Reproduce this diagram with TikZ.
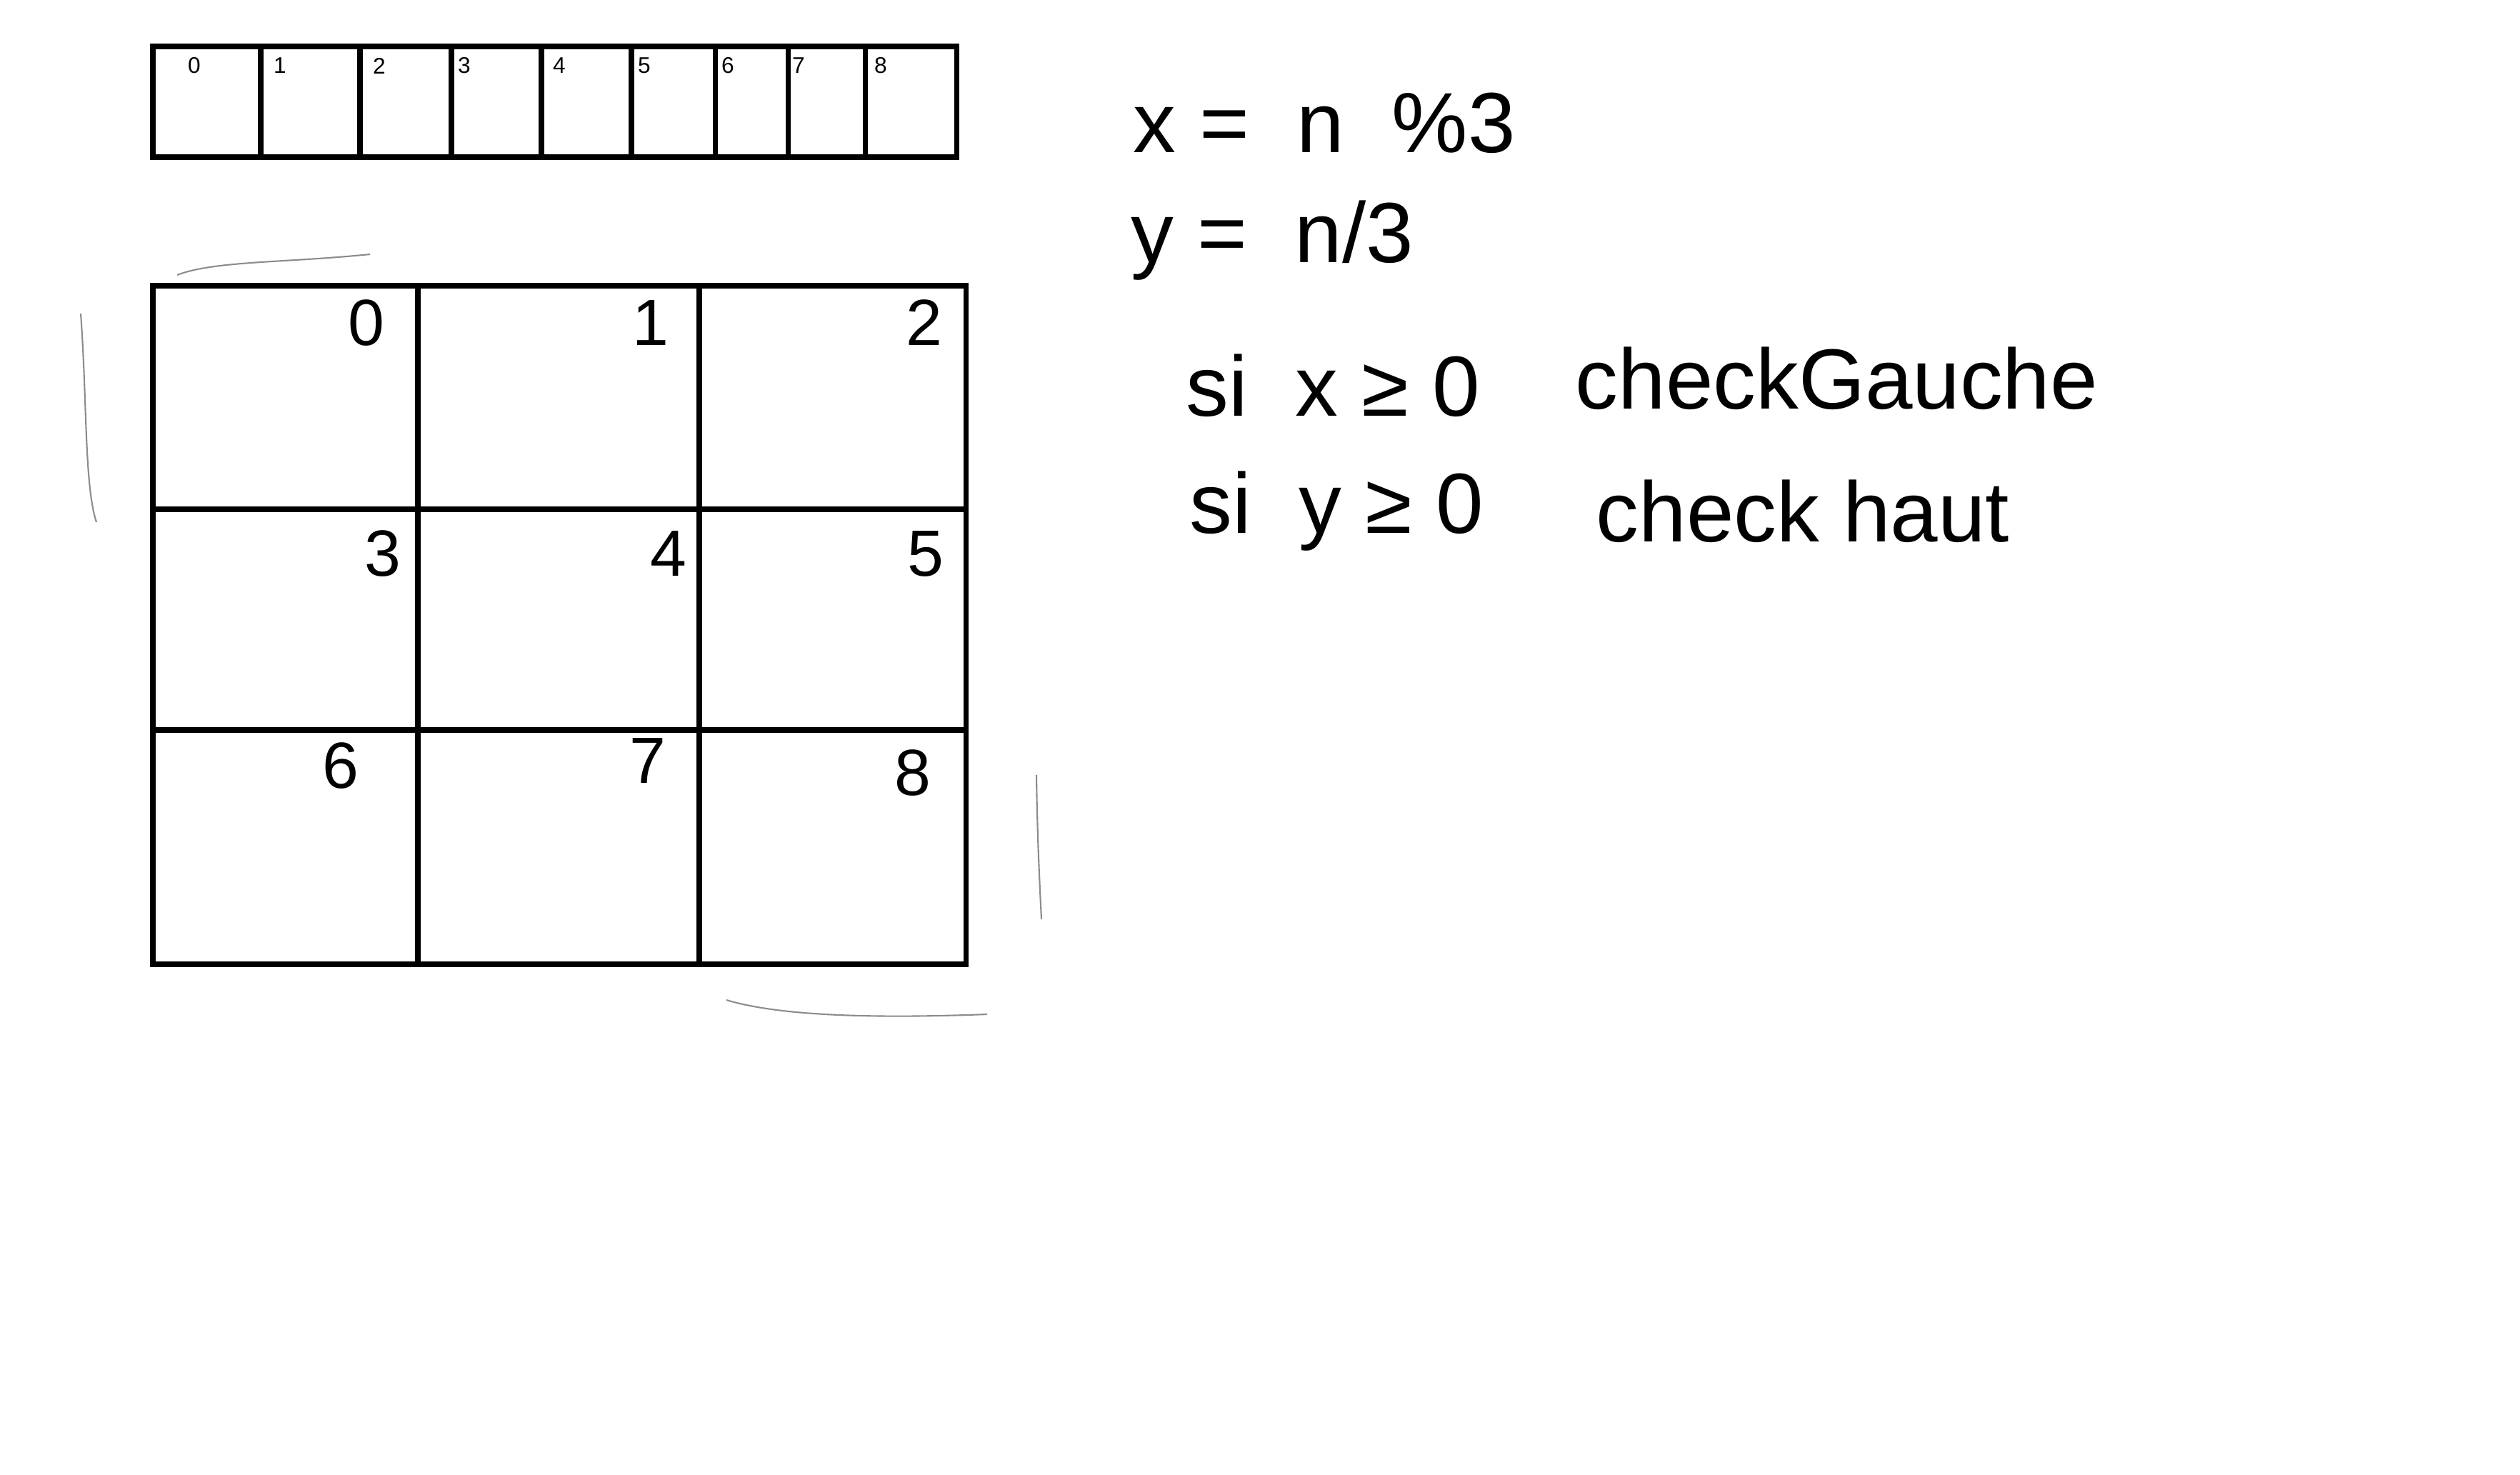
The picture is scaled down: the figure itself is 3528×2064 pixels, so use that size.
\documentclass[tikz,border=0pt]{standalone}
\usepackage{fontspec}
\setmainfont{Liberation Sans}
\begin{document}
\begin{tikzpicture}[x=0.01cm,y=-0.01cm,
  ink/.style={draw=black,line width=2pt},
  faint/.style={draw=black!45,line width=0.6pt},
  smallnum/.style={font=\fontsize{9}{10}\selectfont,inner sep=0pt},
  cellnum/.style={font=\fontsize{26}{28}\selectfont,inner sep=0pt},
  note/.style={font=\fontsize{34}{38}\selectfont,inner sep=0pt,anchor=west}]
\useasboundingbox (0,0) rectangle (3528,2064);
% top strip
\draw[ink] (214,65) rectangle (1339,220);
\foreach \xx in {365,504,632,758,884,1001,1103,1211}
  \draw[ink] (\xx,65) -- (\xx,220);
\foreach \xx/\n in {272/0,392/1,531/2,650/3,783/4,902/5,1019/6,1118/7,1233/8}
  \node[smallnum] (s\n) at (\xx,92) {\n};
% grid
\draw[ink] (214,400) rectangle (1352,1350);
\draw[ink] (585,400) -- (585,1350);
\draw[ink] (979,400) -- (979,1350);
\draw[ink] (214,713) -- (1352,713);
\draw[ink] (214,1022) -- (1352,1022);
\node[cellnum] (g0) at (513,452) {0};
\node[cellnum] (g1) at (911,452) {1};
\node[cellnum] (g2) at (1294,452) {2};
\node[cellnum] (g3) at (536,775) {3};
\node[cellnum] (g4) at (936,775) {4};
\node[cellnum] (g5) at (1296,775) {5};
\node[cellnum] (g6) at (477,1072) {6};
\node[cellnum] (g7) at (907,1065) {7};
\node[cellnum] (g8) at (1278,1082) {8};
% faint strokes
\draw[faint] (248,385) .. controls (300,365) and (400,368) .. (518,356);
\draw[faint] (113,439) .. controls (122,560) and (118,680) .. (135,731);
\draw[faint] (1451,1085) .. controls (1452,1160) and (1455,1230) .. (1458,1287);
\draw[faint] (1017,1400) .. controls (1100,1425) and (1250,1425) .. (1382,1420);
% notes
\node[note] (n1) at (1586,172) {x =\ \ n \ \%3};
\node[note] (n2) at (1583,337) {y =\ \ n/3};
\node[note] (n3) at (1660,540) {si\ \ x ≥ 0};
\node[note] (n4) at (2205,530) {checkGauche};
\node[note] (n5) at (1665,716) {si\ \ y ≥ 0};
\node[note] (n6) at (2234,716) {check haut};
\end{tikzpicture}
\end{document}
